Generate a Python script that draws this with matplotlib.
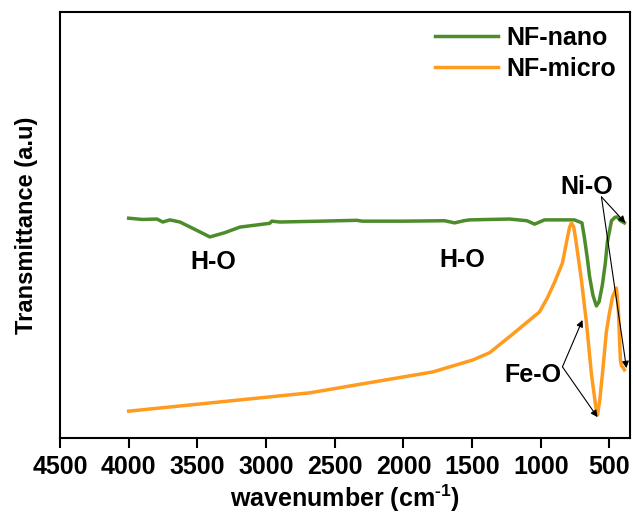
import matplotlib
matplotlib.use("Agg")
import matplotlib.pyplot as plt

plt.rcParams['font.family'] = ['Liberation Sans', 'DejaVu Sans']
plt.rcParams['font.weight'] = 'bold'
plt.rcParams['mathtext.fontset'] = 'custom'
plt.rcParams['mathtext.rm'] = 'Liberation Sans:bold'
plt.rcParams['mathtext.bf'] = 'Liberation Sans:bold'
plt.rcParams['mathtext.default'] = 'bf'

# NF-nano spectrum (wavenumber, transmittance a.u.)
nano_wn = [4000, 3900, 3795, 3751, 3700, 3627, 3520, 3409, 3300, 3191, 2973, 2958, 2900,
           2600, 2340, 2300, 2000, 1700, 1627, 1560, 1518, 1227, 1100, 1045, 973, 850, 755,
           700, 682, 660, 645, 620, 595, 575, 551, 530, 515, 485, 460, 442, 420, 391]
nano_t = [51.6, 51.3, 51.4, 50.7, 51.2, 50.7, 49.0, 47.2, 48.2, 49.5, 50.4, 50.9, 50.7,
          50.9, 51.1, 50.9, 50.9, 51.0, 50.5, 51.0, 51.2, 51.4, 51.0, 50.2, 51.2, 51.2, 51.2,
          50.5, 47.0, 42.0, 38.0, 33.5, 31.0, 32.0, 36.0, 41.0, 46.0, 51.0, 51.8, 51.9, 51.0, 50.5]

# NF-micro spectrum
micro_wn = [4000, 2682, 2300, 1787, 1496, 1373, 1200, 1009, 950, 900, 842, 806, 790, 776,
            760, 747, 704, 667, 631, 600, 587, 570, 551, 522, 500, 478, 449, 435, 420, 413,
            400, 391]
micro_t = [6.3, 10.6, 12.7, 15.5, 18.3, 20.0, 24.5, 29.6, 33.0, 36.5, 41.1, 47.0, 49.5, 50.5,
           49.5, 47.0, 37.1, 27.0, 15.0, 7.5, 5.4, 9.0, 15.0, 25.0, 29.3, 33.1, 35.2, 30.0,
           18.3, 17.0, 16.5, 16.0]

xticks = [4500, 4000, 3500, 3000, 2500, 2000, 1500, 1000, 500]

green = '#4C8C2B'
orange = '#FF9B1F'

fig = plt.figure(figsize=(6.33, 5.17), dpi=100)
ax = fig.add_axes([0.0948, 0.1528, 0.9005, 0.824])

ax.plot(nano_wn, nano_t, color=green, lw=2.5, label='NF-nano')
ax.plot(micro_wn, micro_t, color=orange, lw=2.5, label='NF-micro')

ax.set_xlim(4500, 350)
ax.set_ylim(0, 100)
ax.set_xticks(xticks)
ax.set_xticklabels([str(t) for t in xticks], fontsize=18, fontweight='bold')
ax.set_yticks([])
ax.tick_params(axis='x', direction='out', length=7, width=1.5, pad=5)
for s in ax.spines.values():
    s.set_linewidth(1.5)

ax.set_xlabel('wavenumber (cm$^{\\text{-}1}$)', fontsize=18, fontweight='bold', labelpad=3)
ax.set_ylabel('Transmittance (a.u)', fontsize=17, fontweight='bold', labelpad=16)

ax.legend(loc='upper right', frameon=False, handlelength=2.5,
          handletextpad=0.35, borderaxespad=0.15, labelspacing=0.28,
          prop={'weight': 'bold', 'size': 18})

# annotations
fs = 18
ax.text(3387, 41.3, 'H-O', fontsize=fs, fontweight='bold', ha='center', va='center')
ax.text(1569, 41.8, 'H-O', fontsize=fs, fontweight='bold', ha='center', va='center')
ax.text(667, 58.9, 'Ni-O', fontsize=fs, fontweight='bold', ha='center', va='center')
ax.text(1060, 14.8, 'Fe-O', fontsize=fs, fontweight='bold', ha='center', va='center')

ap = dict(arrowstyle='-|>', color='black', lw=0.8, mutation_scale=10, shrinkA=0, shrinkB=0)
for tgt in [(384, 50.5), (376, 16.4)]:
    ax.annotate('', xy=tgt, xytext=(558, 56.6), arrowprops=ap)
for tgt in [(696, 27.7), (587, 4.9)]:
    ax.annotate('', xy=tgt, xytext=(842, 16.7), arrowprops=ap)

fig.savefig('out.png', dpi=100)
